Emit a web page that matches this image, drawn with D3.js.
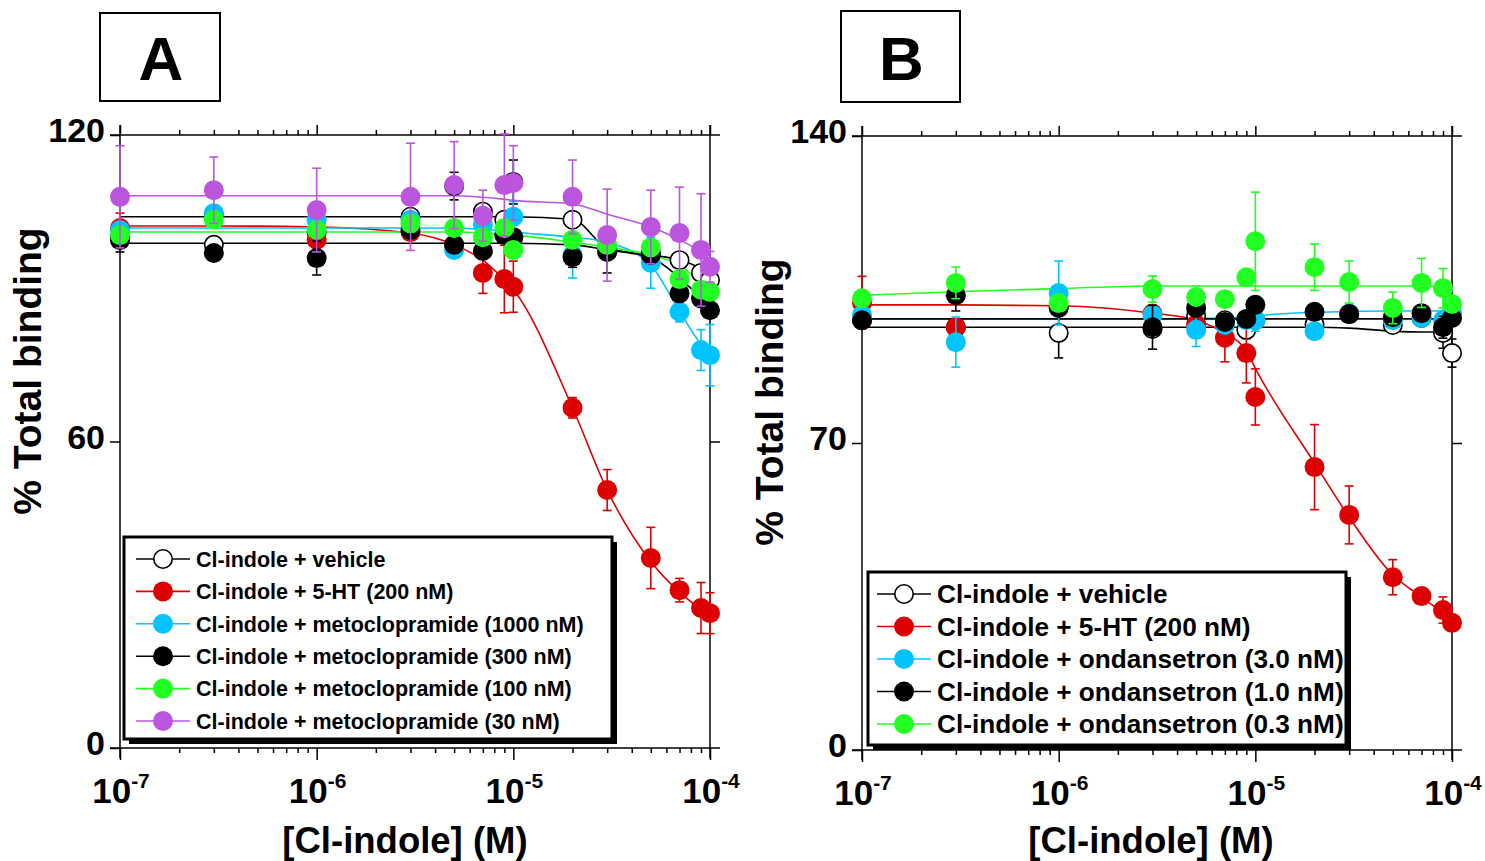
<!DOCTYPE html>
<html>
<head>
<meta charset="utf-8">
<script src="https://cdn.jsdelivr.net/npm/d3@7"></script>
<style>
  body { margin: 0; background: #fff; }
  svg { display: block; }
  text { font-family: "Liberation Sans", Arial, sans-serif; font-weight: bold; fill: #000; }
</style>
</head>
<body>
<svg id="chart" width="1485" height="861"></svg>
<script>
// Cl-indole concentrations (M)
const conc = [1e-7, 3e-7, 1e-6, 3e-6, 5e-6, 7e-6, 9e-6, 1e-5, 2e-5, 3e-5, 5e-5, 7e-5, 9e-5, 1e-4];

// ---- Panel A: metoclopramide ----
const aVehicle   = [100, 98.5, 101, 104, 110, 105, 103.4, 110.8, 103.4, 98, 97, 95.5, 93, 91.6];
const aVehicleE  = [1, 1.5, 1, 1.5, 2.7, 1.5, 1.5, 4.3, 1.5, 1.5, 1.5, 1.5, 1.5, 1.5];
const aVehicleF  = [104, 104, 104, 104, 104, 104, 104, 104, 103.5, 97.9, 96.5, 95.5, 93.6, 91.6];
const a5HT       = [101.8, 104.5, 99.5, 101, 98.5, 93, 91.8, 90.3, 66.6, 50.5, 37.2, 30.9, 27.4, 26.4];
const a5HTE      = [2.9, 1.5, 1.5, 1.5, 1.5, 4, 6.6, 5, 2, 4, 6, 2.3, 5, 4];
const a5HTF      = [102.2, 102.2, 102, 100.8, 98.5, 95.5, 91.6, 89.7, 66.6, 50.5, 36.5, 30.5, 27.2, 26.2];
const aMeto1000  = [101.4, 104.7, 103.4, 103.4, 97.5, 102.4, 100.8, 104, 96.5, 98, 95, 85.4, 77.9, 76.9];
const aMeto1000E = [1, 1.5, 1.5, 1.5, 1.5, 1.5, 1.5, 3, 4.5, 2, 5, 2, 4, 6];
const aMeto1000F = [101.8, 101.8, 101.8, 101.8, 101.8, 101.5, 101.2, 101, 100, 99, 94.5, 85.5, 79, 77];
const aMeto300   = [99.4, 96.9, 95.9, 101.4, 98.5, 97.3, 100.4, 100, 96.1, 97.1, 96.5, 89, 88, 85.7];
const aMeto300E  = [2.3, 1, 3.3, 1.5, 1.5, 1.5, 1.5, 1.5, 2, 4.1, 1.5, 1.5, 1.5, 1.5];
const aMeto300F  = [98.8, 98.8, 98.8, 98.8, 98.8, 98.8, 98.8, 98.8, 98.5, 97.5, 96, 92, 88, 86];
const aMeto100   = [100.4, 103.4, 101.4, 102.7, 101.8, 100, 101.8, 97.5, 99.5, 98.5, 98, 91.8, 89.7, 89.3];
const aMeto100E  = [1.5, 1.5, 1.5, 1.5, 1.5, 1.5, 1.5, 1.5, 1.5, 1.5, 1.5, 1.5, 1.5, 1.5];
const aMeto100F  = [101, 101, 101, 101, 101, 100.8, 100.5, 100.4, 99, 98, 96.5, 94.5, 91, 89.5];
const aMeto30    = [107.9, 109.2, 105.3, 107.9, 110.2, 104.2, 110.2, 110.6, 107.9, 100.4, 102, 100.8, 97.5, 94.2];
const aMeto30E   = [10, 6.5, 8.2, 10.5, 8.5, 5, 10, 7.3, 7.2, 9, 7.2, 9, 11, 3];
const aMeto30F   = [108.1, 108.1, 108.1, 108.1, 108.1, 107.8, 107.4, 107.2, 106.5, 104.5, 102, 99.5, 97, 95.5];

// ---- Panel B: ondansetron ----
const bVehicle   = [98, 96.4, 95.1, 96, 99, 98, 95.8, 98, 97, 99.4, 96.9, 98.5, 95.1, 90.5];
const bVehicleE  = [1, 1, 5.7, 1, 1, 1, 2, 1, 1, 1, 1.5, 1, 3.5, 3.2];
const bVehicleF  = [96.4, 96.4, 96.4, 96.4, 96.4, 96.4, 96.4, 96.4, 96.4, 96.2, 95.5, 95.3, 95.3, 95.3];
const b5HT       = [102, 96.4, 101, 99.5, 97, 94, 90.5, 80.5, 64.5, 53.6, 39.4, 35.1, 31.9, 29];
const b5HTE      = [6, 1, 1, 1, 2, 5.5, 6.8, 6.4, 9.7, 6.6, 4, 1.5, 3, 1.5];
const b5HTF      = [101.5, 101.5, 101.3, 99.6, 98, 95, 91, 87, 65.4, 53.1, 39.9, 34.9, 31, 29];
const bOnd3      = [99.2, 93, 104.2, 99.2, 95.8, 96.9, 98, 98, 95.5, 99.5, 98, 98.5, 98, 99.6];
const bOnd3E     = [1, 5.7, 7.3, 1, 3.8, 1, 1.5, 2.5, 1, 1, 1, 1, 1, 1];
const bOnd3F     = [98.3, 98.3, 98.3, 98.3, 98.4, 98.5, 98.8, 99, 99.8, 100, 100.1, 100.1, 100.1, 100.1];
const bOnd1      = [98, 103.7, 100.8, 96.4, 100.8, 97.6, 98.3, 101.5, 99.9, 99.4, 98.7, 99.6, 96.4, 98.5];
const bOnd1E     = [1.5, 3.6, 1, 5, 1, 1, 1, 1, 1.5, 1, 1, 1.5, 2.5, 1];
const bOnd1F     = [98.3, 98.3, 98.3, 98.3, 98.3, 98.3, 98.3, 98.3, 98.3, 98.3, 98.3, 98.3, 98.3, 98.3];
const bOnd03     = [103, 106.5, 101.9, 105.1, 103.3, 102.8, 107.8, 116, 110.1, 106.7, 100.8, 106.5, 105.3, 101.7];
const bOnd03E    = [1.5, 3.6, 1, 3, 1.5, 1.5, 1.5, 11.2, 5.3, 4.8, 3.6, 5.6, 4.5, 1.5];
const bOnd03F    = [103.7, 104.5, 105.2, 105.8, 105.8, 105.8, 105.8, 105.8, 105.8, 105.8, 105.8, 105.8, 105.8, 105.8];

// Axis tick labels
const xMajor = [1e-7, 1e-6, 1e-5, 1e-4];
const xMajorExp = ["-7", "-6", "-5", "-4"];
const aYTicks = [0, 60, 120];
const bYTicks = [0, 70, 140];

const legendA = ["Cl-indole + vehicle", "Cl-indole + 5-HT (200 nM)",
  "Cl-indole + metoclopramide (1000 nM)", "Cl-indole + metoclopramide (300 nM)",
  "Cl-indole + metoclopramide (100 nM)", "Cl-indole + metoclopramide (30 nM)"];
const legendB = ["Cl-indole + vehicle", "Cl-indole + 5-HT (200 nM)",
  "Cl-indole + ondansetron (3.0 nM)", "Cl-indole + ondansetron (1.0 nM)",
  "Cl-indole + ondansetron (0.3 nM)"];

const RED = "#dd0000", CYAN = "#00c4ff", BLACK = "#000000", GREEN = "#22ff22", PURPLE = "#bb55dd";

const panels = [
  {
    letter: "A", box: [100, 13, 120, 88],
    left: 120, right: 710, top: 135, bottom: 748, yMax: 120, yTicks: aYTicks,
    yTitle: [41, 371], xTitle: [405, 853],
    series: [
      { v: aVehicle, e: aVehicleE, f: aVehicleF, color: BLACK, open: true },
      { v: a5HT, e: a5HTE, f: a5HTF, color: RED },
      { v: aMeto1000, e: aMeto1000E, f: aMeto1000F, color: CYAN },
      { v: aMeto300, e: aMeto300E, f: aMeto300F, color: BLACK },
      { v: aMeto100, e: aMeto100E, f: aMeto100F, color: GREEN },
      { v: aMeto30, e: aMeto30E, f: aMeto30F, color: PURPLE }
    ],
    legend: { labels: legendA, x: 124, y: 537, w: 488, h: 202, first: 559, step: 32.4,
              lx1: 136, lx2: 190, mx: 163, tx: 196, font: 21.5 }
  },
  {
    letter: "B", box: [841, 11, 119, 91],
    left: 862, right: 1452, top: 136, bottom: 750, yMax: 140, yTicks: bYTicks,
    yTitle: [783, 402], xTitle: [1151, 853],
    series: [
      { v: bVehicle, e: bVehicleE, f: bVehicleF, color: BLACK, open: true },
      { v: b5HT, e: b5HTE, f: b5HTF, color: RED },
      { v: bOnd3, e: bOnd3E, f: bOnd3F, color: CYAN },
      { v: bOnd1, e: bOnd1E, f: bOnd1F, color: BLACK },
      { v: bOnd03, e: bOnd03E, f: bOnd03F, color: GREEN }
    ],
    legend: { labels: legendB, x: 868, y: 572, w: 478, h: 173, first: 594, step: 32.5,
              lx1: 877, lx2: 931, mx: 904, tx: 937, font: 26.2 }
  }
];

const svg = d3.select("#chart");
const minors = [];
[1e-7, 1e-6, 1e-5].forEach(d => { for (let k = 2; k <= 9; k++) minors.push(k * d); });

panels.forEach(p => {
  const g = svg.append("g");
  const x = d3.scaleLog().domain([1e-7, 1e-4]).range([p.left, p.right]);
  const y = d3.scaleLinear().domain([0, p.yMax]).range([p.bottom, p.top]);

  // panel letter box
  g.append("rect").attr("x", p.box[0]).attr("y", p.box[1]).attr("width", p.box[2]).attr("height", p.box[3])
    .attr("fill", "#fff").attr("stroke", "#000").attr("stroke-width", 2);
  g.append("text").attr("x", p.box[0] + p.box[2] / 2 + 1).attr("y", p.box[1] + p.box[3] / 2 + 23)
    .attr("text-anchor", "middle").style("font-size", "62px").text(p.letter);

  // frame axes with outward ticks
  const axG = g.append("g").attr("stroke", "#000").attr("stroke-width", 1.5);
  const tickAxis = (gen, tf, size) => {
    const a = g.append("g").attr("transform", tf).call(gen.tickSize(size).tickFormat(""));
    a.select(".domain").remove();
    a.selectAll("line").attr("stroke", "#000").attr("stroke-width", 1.5);
  };
  tickAxis(d3.axisBottom(x).tickValues(xMajor), `translate(0,${p.bottom})`, 12);
  tickAxis(d3.axisBottom(x).tickValues(minors), `translate(0,${p.bottom})`, 5);
  tickAxis(d3.axisTop(x).tickValues(xMajor), `translate(0,${p.top})`, 10);
  tickAxis(d3.axisTop(x).tickValues(minors), `translate(0,${p.top})`, 5);
  tickAxis(d3.axisLeft(y).tickValues(p.yTicks), `translate(${p.left},0)`, 10);
  tickAxis(d3.axisRight(y).tickValues([p.yTicks[1]]), `translate(${p.right},0)`, 10);
  axG.append("line").attr("x1", p.left - 10).attr("x2", p.right + 10).attr("y1", p.bottom).attr("y2", p.bottom);
  axG.append("line").attr("x1", p.left - 10).attr("x2", p.right + 10).attr("y1", p.top).attr("y2", p.top);
  axG.append("line").attr("x1", p.left).attr("x2", p.left).attr("y1", p.top - 10).attr("y2", p.bottom + 10);
  axG.append("line").attr("x1", p.right).attr("x2", p.right).attr("y1", p.top - 10).attr("y2", p.bottom + 10);

  // y tick labels
  p.yTicks.forEach(t => {
    g.append("text").attr("x", p.left - 15).attr("y", y(t) + 7).attr("text-anchor", "end")
      .style("font-size", "34px").text(t);
  });
  // x tick labels: 10 with superscript exponent
  xMajor.forEach((t, i) => {
    const tx = g.append("text").attr("x", x(t) + 1).attr("y", p.bottom + 55).attr("text-anchor", "middle")
      .style("font-size", "35px");
    tx.append("tspan").text("10");
    tx.append("tspan").attr("dy", -15).style("font-size", "21px").text(xMajorExp[i]);
  });

  // axis titles
  g.append("text").attr("transform", `translate(${p.yTitle[0]},${p.yTitle[1]}) rotate(-90)`)
    .attr("text-anchor", "middle").style("font-size", "39px").text("% Total binding");
  g.append("text").attr("x", p.xTitle[0]).attr("y", p.xTitle[1]).attr("text-anchor", "middle")
    .style("font-size", "36.5px").text("[Cl-indole] (M)");

  // fitted curves
  const line = d3.line().x(d => x(d[0])).y(d => y(d[1])).curve(d3.curveMonotoneX);
  p.series.forEach(s => {
    g.append("path").attr("d", line(conc.map((c, i) => [c, s.f[i]])))
      .attr("fill", "none").attr("stroke", s.color).attr("stroke-width", 1.6);
  });

  // error bars and points
  p.series.forEach(s => {
    const sg = g.append("g");
    const eb = s.open ? "#000" : s.color;
    conc.forEach((c, i) => {
      const cx = x(c), y1 = y(s.v[i] + s.e[i]), y2 = y(s.v[i] - s.e[i]);
      sg.append("line").attr("x1", cx).attr("x2", cx).attr("y1", y1).attr("y2", y2)
        .attr("stroke", eb).attr("stroke-width", 1.6);
      [y1, y2].forEach(yy => sg.append("line").attr("x1", cx - 4.5).attr("x2", cx + 4.5)
        .attr("y1", yy).attr("y2", yy).attr("stroke", eb).attr("stroke-width", 1.6));
    });
    sg.selectAll("circle").data(s.v).join("circle")
      .attr("cx", (d, i) => x(conc[i])).attr("cy", d => y(d)).attr("r", s.open ? 9.2 : 10)
      .attr("fill", s.open ? "#fff" : s.color)
      .attr("stroke", s.open ? "#000" : "none").attr("stroke-width", 1.6);
  });

  // legend
  const L = p.legend;
  const lg = g.append("g");
  lg.append("rect").attr("x", L.x + 5).attr("y", L.y + 5).attr("width", L.w).attr("height", L.h).attr("fill", "#000");
  lg.append("rect").attr("x", L.x).attr("y", L.y).attr("width", L.w).attr("height", L.h)
    .attr("fill", "#fff").attr("stroke", "#000").attr("stroke-width", 3);
  L.labels.forEach((lab, i) => {
    const s = p.series[i];
    const ly = L.first + i * L.step;
    lg.append("line").attr("x1", L.lx1).attr("x2", L.lx2).attr("y1", ly).attr("y2", ly)
      .attr("stroke", s.color).attr("stroke-width", 1.6);
    lg.append("circle").attr("cx", L.mx).attr("cy", ly).attr("r", s.open ? 9.2 : 10)
      .attr("fill", s.open ? "#fff" : s.color).attr("stroke", s.open ? "#000" : "none").attr("stroke-width", 1.6);
    lg.append("text").attr("x", L.tx).attr("y", ly + L.font * 0.36).style("font-size", L.font + "px").text(lab);
  });
});
</script>
</body>
</html>
